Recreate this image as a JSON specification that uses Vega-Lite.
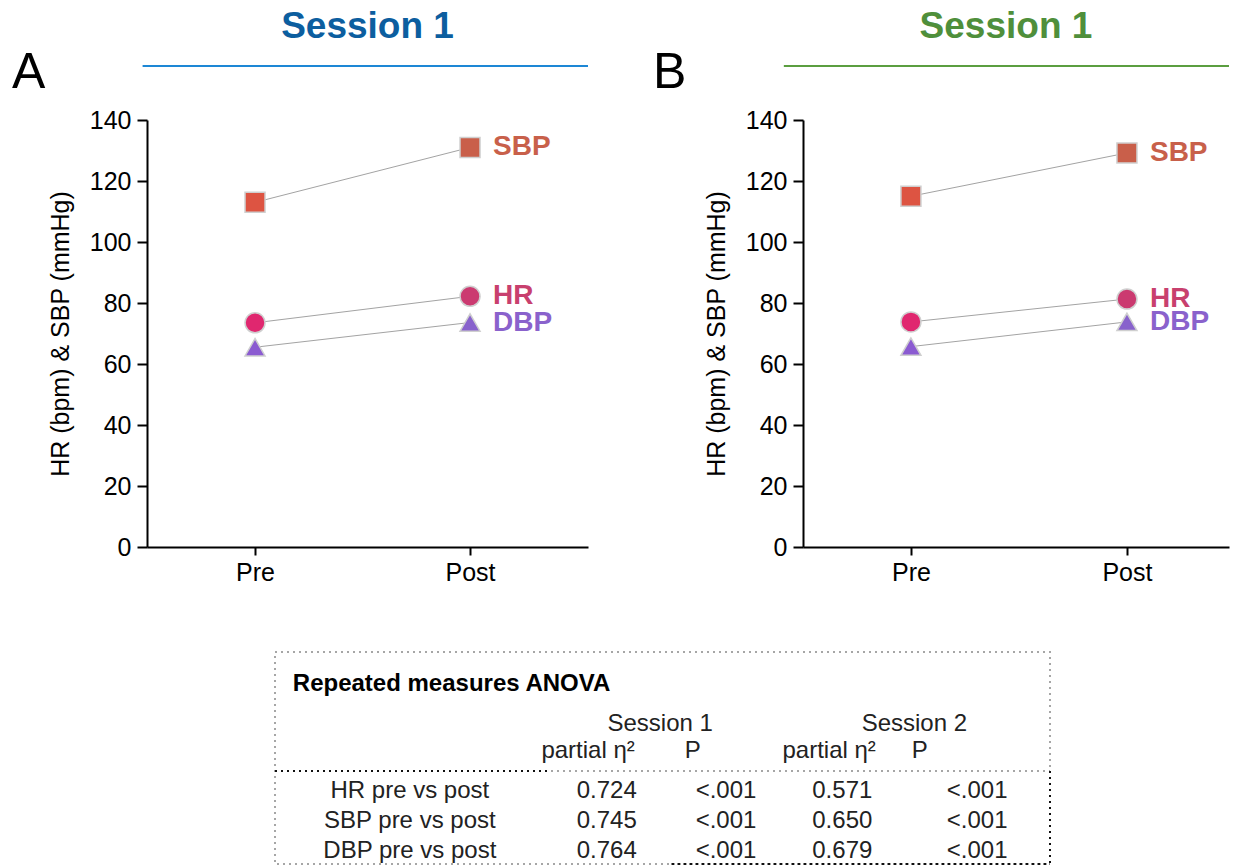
{
  "$schema": "https://vega.github.io/schema/vega-lite/v6.json",
  "padding": {"left": 12, "top": 0, "right": 0, "bottom": 0},
  "config": {
    "font": "Liberation Sans",
    "view": {"stroke": null},
    "axis": {
      "grid": false, "domainColor": "#000", "domainWidth": 2, "tickColor": "#000", "tickWidth": 2,
      "labelColor": "#000", "labelFontSize": 25, "labelFont": "Liberation Sans",
      "titleColor": "#000", "titleFontSize": 25, "titleFontWeight": "normal", "titleFont": "Liberation Sans"
    },
    "axisY": {"tickSize": 10, "labelPadding": 6, "titlePadding": 16},
    "axisX": {"tickSize": 8, "labelPadding": 5, "labelAngle": 0}
  },
  "datasets": {
    "bp": [
      {"panel": "A", "measure": "SBP", "time": "Pre", "value": 113},
      {"panel": "A", "measure": "SBP", "time": "Post", "value": 131},
      {"panel": "A", "measure": "HR", "time": "Pre", "value": 73.5},
      {"panel": "A", "measure": "HR", "time": "Post", "value": 82.2},
      {"panel": "A", "measure": "DBP", "time": "Pre", "value": 65.5},
      {"panel": "A", "measure": "DBP", "time": "Post", "value": 73.6},
      {"panel": "B", "measure": "SBP", "time": "Pre", "value": 115},
      {"panel": "B", "measure": "SBP", "time": "Post", "value": 129.2},
      {"panel": "B", "measure": "HR", "time": "Pre", "value": 73.8},
      {"panel": "B", "measure": "HR", "time": "Post", "value": 81.3},
      {"panel": "B", "measure": "DBP", "time": "Pre", "value": 65.7},
      {"panel": "B", "measure": "DBP", "time": "Post", "value": 73.8}
    ],
    "anova": [
      {"test": "HR pre vs post", "eta1": 0.724, "p1": "<.001", "eta2": 0.571, "p2": "<.001"},
      {"test": "SBP pre vs post", "eta1": 0.745, "p1": "<.001", "eta2": 0.650, "p2": "<.001"},
      {"test": "DBP pre vs post", "eta1": 0.764, "p1": "<.001", "eta2": 0.679, "p2": "<.001"}
    ],
    "anovaHead": [
      {"key": "title", "text": "Repeated measures ANOVA"},
      {"key": "s1", "text": "Session 1"},
      {"key": "s2", "text": "Session 2"},
      {"key": "e1", "text": "partial η²"},
      {"key": "q1", "text": "P"},
      {"key": "e2", "text": "partial η²"},
      {"key": "q2", "text": "P"}
    ]
  },
  "spacing": 66,
  "vconcat": [
    {
      "spacing": 64,
      "hconcat": [
        {
          "spacing": 10,
          "vconcat": [
            {
              "width": 441, "height": 95,
              "data": {"values": [{"session": "Session 1", "letter": "A"}]},
              "layer": [
                {
                  "mark": {"type": "rule", "color": "#1d87d5", "strokeWidth": 2},
                  "encoding": {
                    "x": {"datum": -0.01, "type": "quantitative", "scale": {"domain": [0, 1]}, "axis": null},
                    "x2": {"datum": 1},
                    "y": {"datum": 0.305, "type": "quantitative", "scale": {"domain": [0, 1]}, "axis": null}
                  }
                },
                {
                  "mark": {"type": "text", "fontSize": 37, "fontWeight": "bold", "color": "#0c5e9f", "baseline": "alphabetic"},
                  "encoding": {
                    "text": {"field": "session"},
                    "x": {"datum": 0.5, "type": "quantitative", "scale": {"domain": [0, 1]}, "axis": null},
                    "y": {"datum": 0.6, "type": "quantitative", "scale": {"domain": [0, 1]}, "axis": null}
                  }
                },
                {
                  "mark": {"type": "text", "fontSize": 50, "align": "left", "baseline": "alphabetic", "color": "#000"},
                  "encoding": {
                    "text": {"field": "letter"},
                    "x": {"datum": -0.306, "type": "quantitative", "scale": {"domain": [0, 1]}, "axis": null},
                    "y": {"datum": 0.074, "type": "quantitative", "scale": {"domain": [0, 1]}, "axis": null}
                  }
                }
              ]
            },
            {
              "width": 441, "height": 427,
              "data": {"name": "bp"},
              "transform": [
                {"filter": "datum.panel == 'A'"},
                {"calculate": "datum.measure + ' ' + datum.time", "as": "mk"}
              ],
              "encoding": {
                "x": {"field": "time", "type": "nominal", "sort": ["Pre", "Post"], "scale": {"type": "point", "padding": 0.5256, "align": 0.478}, "axis": {"title": null}},
                "y": {"field": "value", "type": "quantitative", "scale": {"domain": [0, 140], "nice": false}, "axis": {"values": [0, 20, 40, 60, 80, 100, 120, 140], "title": "HR (bpm) & SBP (mmHg)"}}
              },
              "layer": [
                {"mark": {"type": "line", "color": "#a3a3a3", "strokeWidth": 1}, "encoding": {"detail": {"field": "measure"}}},
                {
                  "mark": {"type": "point", "filled": true, "size": 400, "opacity": 1, "stroke": "#cfcfcf", "strokeWidth": 1.5},
                  "encoding": {
                    "shape": {"field": "measure", "scale": {"domain": ["SBP", "HR", "DBP"], "range": ["square", "circle", "triangle-up"]}, "legend": null},
                    "fill": {"field": "mk", "scale": {"domain": ["SBP Pre", "SBP Post", "HR Pre", "HR Post", "DBP Pre", "DBP Post"], "range": ["#dd5442", "#c95f4a", "#e0276f", "#cb3a70", "#8b5bd1", "#8862cc"]}, "legend": null}
                  }
                },
                {
                  "transform": [{"filter": "datum.time == 'Post'"}],
                  "mark": {"type": "text", "align": "left", "baseline": "middle", "dx": 23, "fontSize": 28, "fontWeight": "bold"},
                  "encoding": {
                    "text": {"field": "measure"},
                    "color": {"field": "measure", "scale": {"domain": ["SBP", "HR", "DBP"], "range": ["#c8604a", "#c8406e", "#8a62cc"]}, "legend": null}
                  }
                }
              ]
            }
          ]
        },
        {
          "spacing": 10,
          "vconcat": [
            {
              "width": 426, "height": 95,
              "data": {"values": [{"session": "Session 1", "letter": "B"}]},
              "layer": [
                {
                  "mark": {"type": "rule", "color": "#5b9e40", "strokeWidth": 2},
                  "encoding": {
                    "x": {"datum": -0.045, "type": "quantitative", "scale": {"domain": [0, 1]}, "axis": null},
                    "x2": {"datum": 1},
                    "y": {"datum": 0.305, "type": "quantitative", "scale": {"domain": [0, 1]}, "axis": null}
                  }
                },
                {
                  "mark": {"type": "text", "fontSize": 37, "fontWeight": "bold", "color": "#4f8f3b", "baseline": "alphabetic"},
                  "encoding": {
                    "text": {"field": "session"},
                    "x": {"datum": 0.4765, "type": "quantitative", "scale": {"domain": [0, 1]}, "axis": null},
                    "y": {"datum": 0.6, "type": "quantitative", "scale": {"domain": [0, 1]}, "axis": null}
                  }
                },
                {
                  "mark": {"type": "text", "fontSize": 50, "align": "left", "baseline": "alphabetic", "color": "#000"},
                  "encoding": {
                    "text": {"field": "letter"},
                    "x": {"datum": -0.352, "type": "quantitative", "scale": {"domain": [0, 1]}, "axis": null},
                    "y": {"datum": 0.074, "type": "quantitative", "scale": {"domain": [0, 1]}, "axis": null}
                  }
                }
              ]
            },
            {
              "width": 426, "height": 427,
              "data": {"name": "bp"},
              "transform": [
                {"filter": "datum.panel == 'B'"},
                {"calculate": "datum.measure + ' ' + datum.time", "as": "mk"}
              ],
              "encoding": {
                "x": {"field": "time", "type": "nominal", "sort": ["Pre", "Post"], "scale": {"type": "point", "padding": 0.486, "align": 0.514}, "axis": {"title": null}},
                "y": {"field": "value", "type": "quantitative", "scale": {"domain": [0, 140], "nice": false}, "axis": {"values": [0, 20, 40, 60, 80, 100, 120, 140], "title": "HR (bpm) & SBP (mmHg)"}}
              },
              "layer": [
                {"mark": {"type": "line", "color": "#a3a3a3", "strokeWidth": 1}, "encoding": {"detail": {"field": "measure"}}},
                {
                  "mark": {"type": "point", "filled": true, "size": 400, "opacity": 1, "stroke": "#cfcfcf", "strokeWidth": 1.5},
                  "encoding": {
                    "shape": {"field": "measure", "scale": {"domain": ["SBP", "HR", "DBP"], "range": ["square", "circle", "triangle-up"]}, "legend": null},
                    "fill": {"field": "mk", "scale": {"domain": ["SBP Pre", "SBP Post", "HR Pre", "HR Post", "DBP Pre", "DBP Post"], "range": ["#dd5442", "#c95f4a", "#e0276f", "#cb3a70", "#8b5bd1", "#8862cc"]}, "legend": null}
                  }
                },
                {
                  "transform": [{"filter": "datum.time == 'Post'"}],
                  "mark": {"type": "text", "align": "left", "baseline": "middle", "dx": 23, "fontSize": 28, "fontWeight": "bold"},
                  "encoding": {
                    "text": {"field": "measure"},
                    "color": {"field": "measure", "scale": {"domain": ["SBP", "HR", "DBP"], "range": ["#c8604a", "#c8406e", "#8a62cc"]}, "legend": null}
                  }
                }
              ]
            }
          ]
        }
      ]
    },
    {
      "spacing": 0,
      "hconcat": [
        {"width": 126, "height": 20, "data": {"values": []}, "mark": "point"},
        {
          "width": 775, "height": 212,
          "view": {"stroke": "#a6a6a6", "strokeWidth": 2, "strokeDash": [2, 4]},
          "data": {"name": "anova"},
          "resolve": {"scale": {"y": "independent"}},
          "layer": [
            {
              "mark": {"type": "rule", "color": "#a6a6a6", "strokeWidth": 2, "strokeDash": [2, 4]},
              "encoding": {
                "x": {"datum": 0, "type": "quantitative", "scale": {"domain": [0, 1]}, "axis": null},
                "x2": {"datum": 1},
                "y": {"datum": 0.561, "type": "quantitative", "scale": {"domain": [0, 1], "reverse": true}, "axis": null}
              }
            },
            {
              "mark": {"type": "rule", "color": "#111", "strokeWidth": 2, "strokeDash": [2, 4]},
              "encoding": {
                "x": {"datum": 0, "type": "quantitative", "scale": {"domain": [0, 1]}, "axis": null},
                "x2": {"datum": 0.351},
                "y": {"datum": 0.561, "type": "quantitative", "scale": {"domain": [0, 1], "reverse": true}, "axis": null}
              }
            },
            {
              "mark": {"type": "rule", "color": "#111", "strokeWidth": 2, "strokeDash": [2, 4]},
              "encoding": {
                "x": {"datum": 0.512, "type": "quantitative", "scale": {"domain": [0, 1]}, "axis": null},
                "x2": {"datum": 1},
                "y": {"datum": 1, "type": "quantitative", "scale": {"domain": [0, 1], "reverse": true}, "axis": null}
              }
            },
            {
              "mark": {"type": "rule", "color": "#111", "strokeWidth": 2, "strokeDash": [2, 4]},
              "encoding": {
                "x": {"datum": 1, "type": "quantitative", "scale": {"domain": [0, 1]}, "axis": null},
                "y": {"datum": 0.561, "type": "quantitative", "scale": {"domain": [0, 1], "reverse": true}, "axis": null},
                "y2": {"datum": 1}
              }
            },
            {
              "data": {"name": "anovaHead"},
              "transform": [{"filter": "datum.key == 'title'"}],
              "mark": {"type": "text", "align": "left", "baseline": "alphabetic", "fontSize": 24, "fontWeight": "bold", "color": "#000"},
              "encoding": {
                "text": {"field": "text"},
                "x": {"datum": 0.023, "type": "quantitative", "scale": {"domain": [0, 1]}, "axis": null},
                "y": {"datum": 0.184, "type": "quantitative", "scale": {"domain": [0, 1], "reverse": true}, "axis": null}
              }
            },
            {
              "data": {"name": "anovaHead"},
              "transform": [{"filter": "datum.key == 's1'"}],
              "mark": {"type": "text", "baseline": "alphabetic", "fontSize": 24, "color": "#222"},
              "encoding": {
                "text": {"field": "text"},
                "x": {"datum": 0.497, "type": "quantitative", "scale": {"domain": [0, 1]}, "axis": null},
                "y": {"datum": 0.373, "type": "quantitative", "scale": {"domain": [0, 1], "reverse": true}, "axis": null}
              }
            },
            {
              "data": {"name": "anovaHead"},
              "transform": [{"filter": "datum.key == 's2'"}],
              "mark": {"type": "text", "baseline": "alphabetic", "fontSize": 24, "color": "#222"},
              "encoding": {
                "text": {"field": "text"},
                "x": {"datum": 0.825, "type": "quantitative", "scale": {"domain": [0, 1]}, "axis": null},
                "y": {"datum": 0.373, "type": "quantitative", "scale": {"domain": [0, 1], "reverse": true}, "axis": null}
              }
            },
            {
              "data": {"name": "anovaHead"},
              "transform": [{"filter": "datum.key == 'e1'"}],
              "mark": {"type": "text", "baseline": "alphabetic", "fontSize": 24, "color": "#222"},
              "encoding": {
                "text": {"field": "text"},
                "x": {"datum": 0.404, "type": "quantitative", "scale": {"domain": [0, 1]}, "axis": null},
                "y": {"datum": 0.5, "type": "quantitative", "scale": {"domain": [0, 1], "reverse": true}, "axis": null}
              }
            },
            {
              "data": {"name": "anovaHead"},
              "transform": [{"filter": "datum.key == 'q1'"}],
              "mark": {"type": "text", "baseline": "alphabetic", "fontSize": 24, "color": "#222"},
              "encoding": {
                "text": {"field": "text"},
                "x": {"datum": 0.539, "type": "quantitative", "scale": {"domain": [0, 1]}, "axis": null},
                "y": {"datum": 0.5, "type": "quantitative", "scale": {"domain": [0, 1], "reverse": true}, "axis": null}
              }
            },
            {
              "data": {"name": "anovaHead"},
              "transform": [{"filter": "datum.key == 'e2'"}],
              "mark": {"type": "text", "baseline": "alphabetic", "fontSize": 24, "color": "#222"},
              "encoding": {
                "text": {"field": "text"},
                "x": {"datum": 0.715, "type": "quantitative", "scale": {"domain": [0, 1]}, "axis": null},
                "y": {"datum": 0.5, "type": "quantitative", "scale": {"domain": [0, 1], "reverse": true}, "axis": null}
              }
            },
            {
              "data": {"name": "anovaHead"},
              "transform": [{"filter": "datum.key == 'q2'"}],
              "mark": {"type": "text", "baseline": "alphabetic", "fontSize": 24, "color": "#222"},
              "encoding": {
                "text": {"field": "text"},
                "x": {"datum": 0.832, "type": "quantitative", "scale": {"domain": [0, 1]}, "axis": null},
                "y": {"datum": 0.5, "type": "quantitative", "scale": {"domain": [0, 1], "reverse": true}, "axis": null}
              }
            },
            {
              "mark": {"type": "text", "baseline": "alphabetic", "fontSize": 24, "color": "#222"},
              "encoding": {
                "text": {"field": "test"},
                "x": {"datum": 0.174, "type": "quantitative", "scale": {"domain": [0, 1]}, "axis": null},
                "y": {"field": "test", "type": "nominal", "scale": {"type": "point", "domain": ["HR pre vs post", "SBP pre vs post", "DBP pre vs post"], "range": [146, 206], "padding": 0}, "axis": null}
              }
            },
            {
              "mark": {"type": "text", "baseline": "alphabetic", "fontSize": 24, "color": "#222"},
              "encoding": {
                "text": {"field": "eta1", "format": ".3f"},
                "x": {"datum": 0.428, "type": "quantitative", "scale": {"domain": [0, 1]}, "axis": null},
                "y": {"field": "test", "type": "nominal", "scale": {"type": "point", "domain": ["HR pre vs post", "SBP pre vs post", "DBP pre vs post"], "range": [146, 206], "padding": 0}, "axis": null}
              }
            },
            {
              "mark": {"type": "text", "baseline": "alphabetic", "fontSize": 24, "color": "#222"},
              "encoding": {
                "text": {"field": "p1"},
                "x": {"datum": 0.582, "type": "quantitative", "scale": {"domain": [0, 1]}, "axis": null},
                "y": {"field": "test", "type": "nominal", "scale": {"type": "point", "domain": ["HR pre vs post", "SBP pre vs post", "DBP pre vs post"], "range": [146, 206], "padding": 0}, "axis": null}
              }
            },
            {
              "mark": {"type": "text", "baseline": "alphabetic", "fontSize": 24, "color": "#222"},
              "encoding": {
                "text": {"field": "eta2", "format": ".3f"},
                "x": {"datum": 0.732, "type": "quantitative", "scale": {"domain": [0, 1]}, "axis": null},
                "y": {"field": "test", "type": "nominal", "scale": {"type": "point", "domain": ["HR pre vs post", "SBP pre vs post", "DBP pre vs post"], "range": [146, 206], "padding": 0}, "axis": null}
              }
            },
            {
              "mark": {"type": "text", "baseline": "alphabetic", "fontSize": 24, "color": "#222"},
              "encoding": {
                "text": {"field": "p2"},
                "x": {"datum": 0.906, "type": "quantitative", "scale": {"domain": [0, 1]}, "axis": null},
                "y": {"field": "test", "type": "nominal", "scale": {"type": "point", "domain": ["HR pre vs post", "SBP pre vs post", "DBP pre vs post"], "range": [146, 206], "padding": 0}, "axis": null}
              }
            }
          ]
        }
      ]
    }
  ]
}
